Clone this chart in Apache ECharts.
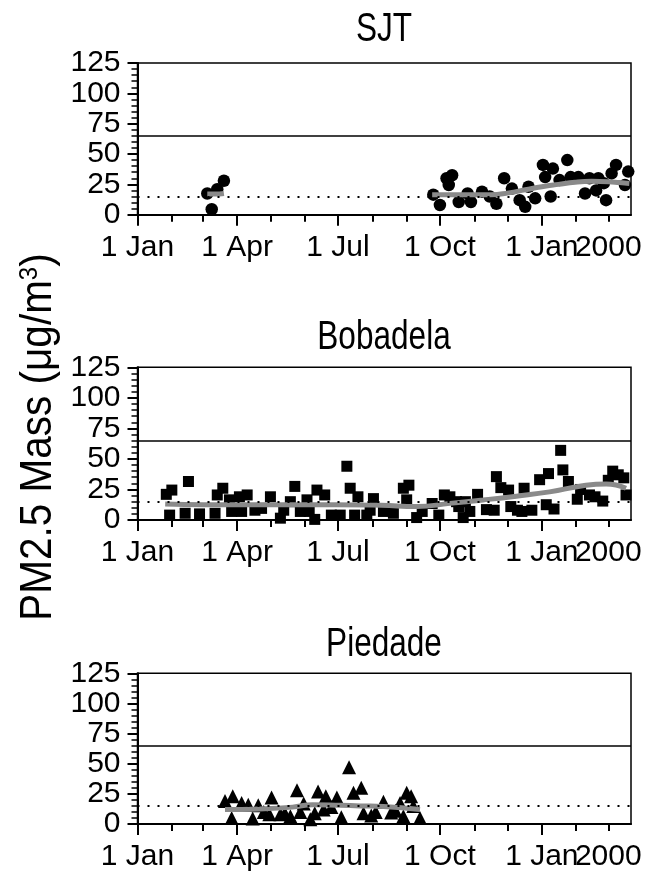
<!DOCTYPE html>
<html>
<head>
<meta charset="utf-8">
<script src="https://cdn.jsdelivr.net/npm/echarts@6/dist/echarts.min.js"></script>
<style>
  html, body { margin: 0; padding: 0; background: #fff; }
  #chart { width: 650px; height: 872px; }
</style>
</head>
<body>
<div id="chart"></div>
<script>
// PM2.5 mass at three sites, Jan 1999 - Mar 2000

// Axis ticks
const monthStarts = ['1999-01-01','1999-02-01','1999-03-01','1999-04-01','1999-05-01','1999-06-01',
  '1999-07-01','1999-08-01','1999-09-01','1999-10-01','1999-11-01','1999-12-01',
  '2000-01-01','2000-02-01','2000-03-01'];
const majorTickDates = ['1999-01-01','1999-04-01','1999-07-01','1999-10-01','2000-01-01'];
const xLabelDates = ['1999-01-01','1999-04-01','1999-07-01','1999-10-01','2000-01-01'];
const xLabelTexts = ['1 Jan','1 Apr','1 Jul','1 Oct','1 Jan'];
const yearLabelDate = '2000-03-01';
const yearLabelText = '2000';
const xEndDate = '2000-03-21';
const yTicks = [0, 25, 50, 75, 100, 125];

// Reference levels (annual and 24-h standards)
const annualStandard = 15;
const dailyStandard = 65;

// Site names
const sites = ['SJT', 'Bobadela', 'Piedade'];

// SJT daily samples
const sjtDates = ['1999-03-05','1999-03-09','1999-03-14','1999-03-20',
  '1999-09-25','1999-10-01','1999-10-07','1999-10-09','1999-10-12','1999-10-18','1999-10-26','1999-10-29',
  '1999-11-08','1999-11-15','1999-11-21','1999-11-28','1999-12-05','1999-12-12','1999-12-17','1999-12-20',
  '1999-12-26','2000-01-02','2000-01-04','2000-01-09','2000-01-11','2000-01-17','2000-01-24','2000-01-27',
  '2000-02-03','2000-02-09','2000-02-13','2000-02-19','2000-02-21','2000-02-26','2000-02-28','2000-03-04',
  '2000-03-08','2000-03-16','2000-03-19'];
const sjtValues = [17.5, 4.5, 21, 28,
  16.5, 8, 30, 24.5, 32.5, 10.5, 17.5, 10.5,
  19, 15, 9, 30, 21.5, 12, 6.5, 23,
  13.5, 41, 31, 15, 38, 28.5, 45, 31,
  31, 17.5, 30, 20, 30, 26, 12, 34,
  41, 24.5, 35.5];
// SJT running mean (null splits the two sampling periods)
const sjtTrendDates = ['1999-03-05','1999-03-12','1999-03-20', null,
  '1999-09-24','1999-10-18','1999-11-16','1999-12-02','1999-12-17','2000-01-01','2000-01-16',
  '2000-01-31','2000-02-15','2000-03-01','2000-03-11','2000-03-20'];
const sjtTrendValues = [17, 17, 17.5, null,
  16.5, 16.5, 16.5, 18, 20.5, 23, 25,
  26.8, 27.5, 27.2, 26.5, 25.8];

// Bobadela daily samples
const bobDates = ['1999-01-27','1999-01-30','1999-02-01','1999-02-13','1999-02-16','1999-02-26',
  '1999-03-12','1999-03-14','1999-03-19','1999-03-25','1999-03-27','1999-04-03','1999-04-05',
  '1999-04-10','1999-04-17','1999-04-23','1999-05-01','1999-05-10','1999-05-13','1999-05-19',
  '1999-05-23','1999-05-28','1999-06-03','1999-06-05','1999-06-10','1999-06-12','1999-06-19',
  '1999-06-25','1999-07-03','1999-07-09','1999-07-12','1999-07-16','1999-07-19','1999-07-27',
  '1999-07-30','1999-08-02','1999-08-11','1999-08-20','1999-08-29','1999-09-01','1999-09-03',
  '1999-09-10','1999-09-15','1999-09-24','1999-09-30','1999-10-05','1999-10-10','1999-10-16',
  '1999-10-18','1999-10-22','1999-10-24','1999-10-28','1999-11-04','1999-11-12','1999-11-19',
  '1999-11-21','1999-11-25','1999-12-02','1999-12-04','1999-12-10','1999-12-14','1999-12-16',
  '1999-12-23','1999-12-30','2000-01-05','2000-01-07','2000-01-12','2000-01-18','2000-01-20',
  '2000-01-25','2000-02-02','2000-02-05','2000-02-13','2000-02-18','2000-02-25','2000-03-01',
  '2000-03-05','2000-03-10','2000-03-15','2000-03-17'];
const bobValues = [21, 4, 24.5, 5.5, 31.5, 5,
  5.5, 20.5, 26, 16.5, 7, 19, 7,
  20.5, 8, 9.5, 19, 1.5, 8, 15,
  27.5, 7, 16.5, 7, 0.5, 24.5, 20.5,
  4, 4, 44, 26, 4, 19, 4,
  8, 17.5, 7, 5.5, 26, 16.5, 28.5,
  2, 7, 13.5, 4, 20.5, 19, 15,
  11, 2, 15, 7, 21, 8.5, 8,
  35.5, 26.5, 24.5, 11, 8, 7, 26,
  8, 33, 12.5, 38, 9, 57, 41,
  31.5, 17, 25, 20.5, 19, 15.5, 32.5,
  40, 37, 34.5, 20.5];
const bobTrendDates = ['1999-01-26','1999-03-02','1999-04-11','1999-05-21','1999-06-30','1999-08-09',
  '1999-09-10','1999-10-10','1999-11-09','1999-12-09','2000-01-08','2000-02-07','2000-02-28','2000-03-17'];
const bobTrendValues = [13, 12.5, 12.5, 12.5, 12.5, 12, 11, 13.6, 16.4, 19.5, 23, 28, 29.5, 26];

// Piedade daily samples
const pieDates = ['1999-03-21','1999-03-27','1999-03-28','1999-04-05','1999-04-11','1999-04-15',
  '1999-04-20','1999-04-25','1999-04-30','1999-05-02','1999-05-10','1999-05-14','1999-05-19',
  '1999-05-25','1999-05-28','1999-05-31','1999-06-06','1999-06-10','1999-06-13','1999-06-18',
  '1999-06-20','1999-06-25','1999-06-30','1999-07-04','1999-07-11','1999-07-15','1999-07-22',
  '1999-07-24','1999-07-31','1999-08-04','1999-08-11','1999-08-18','1999-08-22','1999-08-26',
  '1999-08-29','1999-09-01','1999-09-05','1999-09-07','1999-09-13'];
const pieValues = [19, 5, 23, 17.5, 16, 4.5,
  15.5, 10, 8, 22, 8, 9, 6.5,
  28, 10, 17, 4, 9, 27, 12,
  23, 14, 22, 5.5, 47, 26, 30,
  9, 7, 10, 18.5, 9.5, 11, 17.5,
  6.5, 26, 23, 15, 5];
const pieTrendDates = ['1999-03-21','1999-04-21','1999-05-21','1999-06-08','1999-07-03','1999-07-21',
  '1999-08-11','1999-09-13'];
const pieTrendValues = [12, 12.5, 14, 16, 15.5, 15, 14.5, 12];

// ---- helpers ----
const ORIGIN = Date.UTC(1999, 0, 1);
function dayOf(s) {
  const p = s.split('-').map(Number);
  return (Date.UTC(p[0], p[1] - 1, p[2]) - ORIGIN) / 86400000;
}
function pairs(dates, values) {
  return dates.map((d, i) => d === null ? [null, null] : [dayOf(d), values[i]]);
}
const xMax = dayOf(xEndDate) + 0.5;
const labelMap = {};
xLabelDates.forEach((d, i) => { labelMap[dayOf(d)] = xLabelTexts[i]; });

const FONT = '"Liberation Sans", Arial, sans-serif';
const panels = [
  { top: 63,    height: 151.7, scatter: pairs(sjtDates, sjtValues), trend: pairs(sjtTrendDates, sjtTrendValues), symbol: 'circle',   size: 12.5, titleY: 30 },
  { top: 367.3, height: 152.7, scatter: pairs(bobDates, bobValues), trend: pairs(bobTrendDates, bobTrendValues), symbol: 'rect',     size: 11,   titleY: 338 },
  { top: 673.3, height: 151.4, scatter: pairs(pieDates, pieValues), trend: pairs(pieTrendDates, pieTrendValues), symbol: 'triangle', size: 14,   titleY: 645 }
];

const labelStyle = { color: '#000', fontSize: 30, fontFamily: FONT };
const grid = [], xAxis = [], yAxis = [], series = [], graphic = [];
panels.forEach((p, i) => {
  grid.push({ left: 137.5, width: 493.5, top: p.top, height: p.height,
    show: true, borderColor: '#000', borderWidth: 1.5, backgroundColor: 'transparent' });
  // labelled axis with the long (quarterly) ticks
  xAxis.push({ gridIndex: i, type: 'value', position: 'bottom', min: 0, max: xMax,
    axisLine: { show: true, onZero: false, lineStyle: { color: '#000', width: 2 } },
    axisTick: { show: true, customValues: majorTickDates.map(dayOf), length: 11, lineStyle: { color: '#000', width: 2 } },
    axisLabel: Object.assign({ show: true, customValues: xLabelDates.map(dayOf), formatter: v => labelMap[v] || '',
      margin: 18, hideOverlap: false }, labelStyle),
    splitLine: { show: false } });
  // month ticks and the year label
  xAxis.push({ gridIndex: i, type: 'value', position: 'bottom', min: 0, max: xMax,
    axisLine: { show: false, onZero: false },
    axisTick: { show: true, customValues: monthStarts.map(dayOf), length: 7, lineStyle: { color: '#000', width: 2 } },
    axisLabel: Object.assign({ show: true, customValues: [dayOf(yearLabelDate)], formatter: () => yearLabelText,
      margin: 18, hideOverlap: false }, labelStyle),
    splitLine: { show: false } });
  yAxis.push({ gridIndex: i, type: 'value', min: yTicks[0], max: yTicks[yTicks.length - 1], interval: yTicks[1] - yTicks[0],
    axisLine: { show: true, onZero: false, lineStyle: { color: '#000', width: 2 } },
    axisTick: { show: true, length: 10, lineStyle: { color: '#000', width: 2 } },
    minorTick: { show: true, splitNumber: 5, length: 6, lineStyle: { color: '#000', width: 1.5 } },
    axisLabel: Object.assign({ margin: 17 }, labelStyle),
    splitLine: { show: false }, minorSplitLine: { show: false } });
  series.push({ type: 'scatter', xAxisIndex: 2 * i, yAxisIndex: i, data: p.scatter,
    symbol: p.symbol, symbolSize: p.size, itemStyle: { color: '#000', opacity: 1 }, z: 3,
    markLine: { silent: true, symbol: 'none', label: { show: false },
      data: [
        { yAxis: dailyStandard, lineStyle: { color: '#000', width: 1.5, type: 'solid' } },
        { yAxis: annualStandard, lineStyle: { color: '#000', width: 2, type: [2, 8] } }
      ] } });
  series.push({ type: 'line', xAxisIndex: 2 * i, yAxisIndex: i, data: p.trend, smooth: true,
    connectNulls: false, showSymbol: false, symbol: 'none',
    lineStyle: { color: '#8a8a8a', width: 5 }, z: 4 });
  graphic.push({ type: 'text', x: 384, y: p.titleY, scaleX: 0.77,
    style: { text: sites[i], fill: '#000', font: '41px ' + FONT, textAlign: 'center', textVerticalAlign: 'middle' } });
});

graphic.push({ type: 'text', x: 39, y: 437, rotation: Math.PI / 2, scaleX: 0.92,
  style: { text: 'PM2.5 Mass (μg/m{sup|3})', fill: '#000', font: '44px ' + FONT,
    textAlign: 'center', textVerticalAlign: 'middle',
    rich: { sup: { fontSize: 26, fontFamily: FONT, verticalAlign: 'top', padding: [0, 0, 18, 0] } } } });

const chart = echarts.init(document.getElementById('chart'), null, { renderer: 'canvas' });
chart.setOption({ animation: false, backgroundColor: '#fff', grid, xAxis, yAxis, series, graphic });
</script>
</body>
</html>
